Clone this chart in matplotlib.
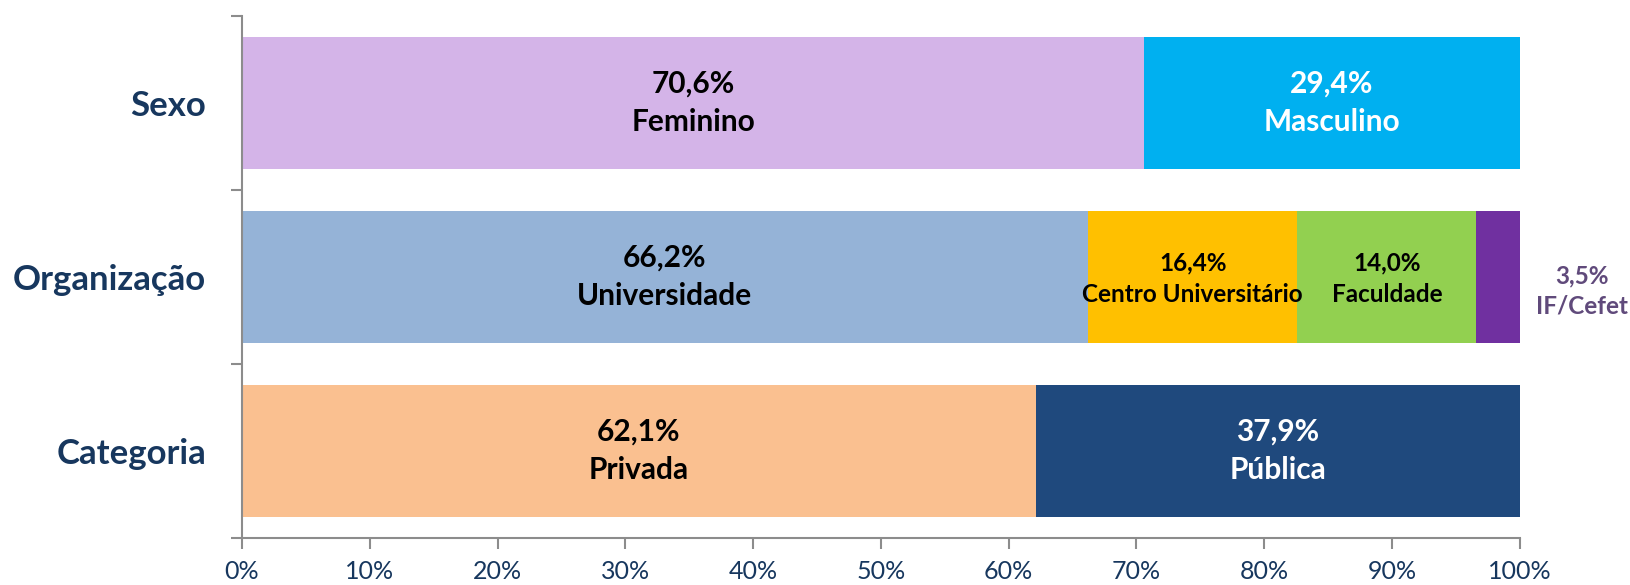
import matplotlib
matplotlib.use("Agg")
import matplotlib.pyplot as plt

plt.rcParams.update({
    "font.family": ["Lato", "DejaVu Sans"],
})

# ---- data ----
categories = ["Categoria", "Organização", "Sexo"]   # bottom -> top
sexo_labels = ["Feminino", "Masculino"]
sexo_values = [70.6, 29.4]
org_labels = ["Universidade", "Centro Universitário", "Faculdade", "IF/Cefet"]
org_values = [66.2, 16.4, 14.0, 3.5]
cat_labels = ["Privada", "Pública"]
cat_values = [62.1, 37.9]
x_ticks = [0, 10, 20, 30, 40, 50, 60, 70, 80, 90, 100]

NAVY = "#17375E"
AXIS_GREY = "#8C8C8C"
BIG, SMALL = 21.5, 17.5

rows = [
    # (row index, labels, values, colours, text colours, font sizes)
    (2, sexo_labels, sexo_values,
     ["#D4B4E8", "#00B0F0"], ["black", "white"], [BIG, BIG]),
    (1, org_labels, org_values,
     ["#95B3D7", "#FFC000", "#92D050", "#7030A0"],
     ["black", "black", "black", "#604A7B"], [BIG, SMALL, SMALL, SMALL]),
    (0, cat_labels, cat_values,
     ["#FAC090", "#1F497D"], ["black", "white"], [BIG, BIG]),
]

fig = plt.figure(figsize=(16.31, 5.85), dpi=100)
ax = fig.add_axes([0.1484, 0.0803, 0.9318 - 0.1484, 0.9733 - 0.0803])

bar_h = 0.76
for y, labels, values, colors, tcolors, fsizes in rows:
    left = 0.0
    for lab, val, col, tcol, fs in zip(labels, values, colors, tcolors, fsizes):
        ax.barh(y, val, left=left, height=bar_h, color=col, edgecolor="none")
        txt = f"{val:.1f}%".replace(".", ",") + "\n" + lab
        if val < 5:
            # too narrow: label sits outside the bar, to the right
            ax.text(104.9, y - 0.08, txt, ha="center", va="center",
                    fontsize=fs, fontweight="bold", color=tcol,
                    linespacing=1.4, clip_on=False)
        else:
            yy = y - 0.01 if fs < BIG else y
            ax.text(left + val / 2, yy, txt, ha="center", va="center",
                    fontsize=fs, fontweight="bold", color=tcol,
                    linespacing=1.45)
        left += val

ax.set_xlim(0, 100)
ax.set_ylim(-0.5, 2.5)
ax.set_xticks(x_ticks)
ax.set_xticklabels([f"{t}%" for t in x_ticks])
ax.set_yticks(range(len(categories)))
ax.set_yticklabels(categories)
ax.set_yticks([-0.5, 0.5, 1.5, 2.5], minor=True)

ax.tick_params(axis="x", direction="out", length=8, width=1.5,
               color=AXIS_GREY, labelsize=18, labelcolor=NAVY, pad=8)
ax.tick_params(axis="y", which="major", length=0, pad=26,
               labelsize=25, labelcolor=NAVY)
ax.tick_params(axis="y", which="minor", direction="out", length=8,
               width=1.5, color=AXIS_GREY)
for lab in ax.get_yticklabels():
    lab.set_fontweight("bold")

for spine in ("top", "right"):
    ax.spines[spine].set_visible(False)
for spine in ("left", "bottom"):
    ax.spines[spine].set_color(AXIS_GREY)
    ax.spines[spine].set_linewidth(1.5)

fig.savefig("out.png", dpi=100, facecolor="white")
